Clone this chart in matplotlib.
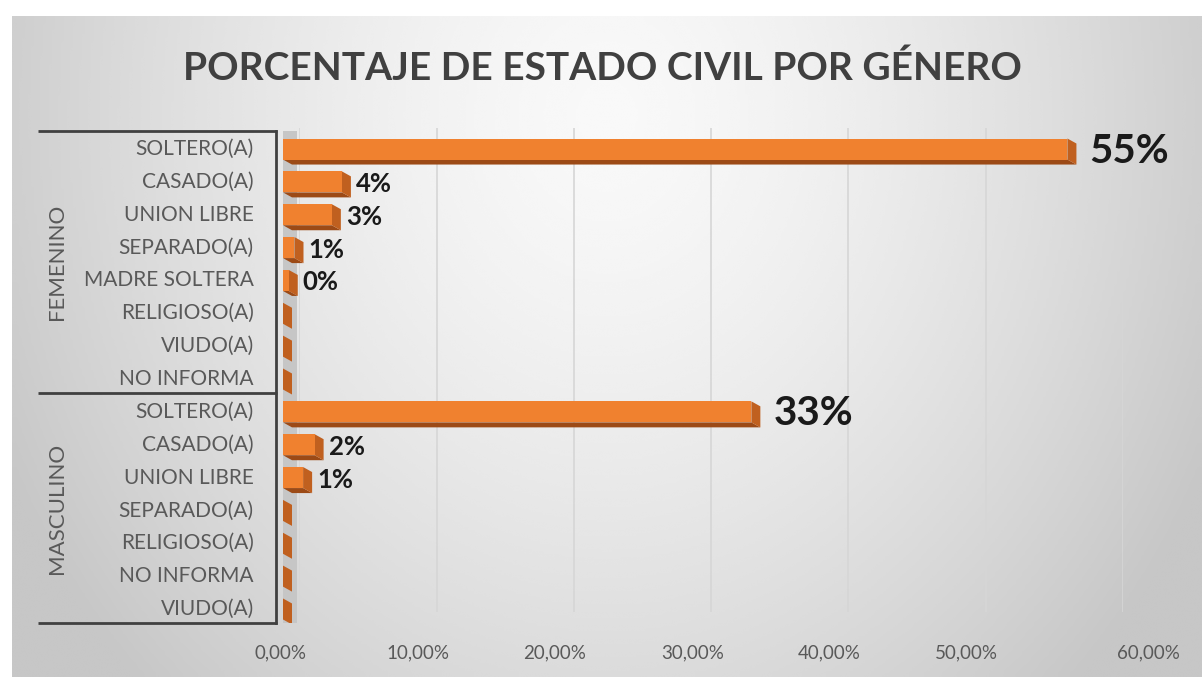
import numpy as np
import matplotlib.pyplot as plt
from matplotlib.patches import Polygon
from matplotlib import transforms
from matplotlib.ticker import FuncFormatter

plt.rcParams['font.family'] = ['Lato', 'DejaVu Sans']

# datos
fem_cats = ["SOLTERO(A)", "CASADO(A)", "UNION LIBRE", "SEPARADO(A)",
            "MADRE SOLTERA", "RELIGIOSO(A)", "VIUDO(A)", "NO INFORMA"]
fem_vals = [0.546, 0.041, 0.034, 0.008, 0.004, 0.0, 0.0, 0.0]
mas_cats = ["SOLTERO(A)", "CASADO(A)", "UNION LIBRE", "SEPARADO(A)",
            "RELIGIOSO(A)", "NO INFORMA", "VIUDO(A)"]
mas_vals = [0.326, 0.022, 0.014, 0.0, 0.0, 0.0, 0.0]
groups = ["FEMENINO", "MASCULINO"]
x_ticks = [0, 0.1, 0.2, 0.3, 0.4, 0.5, 0.6]

cats = fem_cats + mas_cats
vals = fem_vals + mas_vals
ypos = np.arange(len(cats))

W, H = 1202, 677
fig = plt.figure(figsize=(W / 100, H / 100), dpi=100)
fig.patch.set_facecolor('white')

# fondo con degradado
bg = fig.add_axes([12 / W, 0, (W - 12) / W, (H - 16) / H], zorder=-10)
u, w = np.meshgrid(np.linspace(0, 1, 400), np.linspace(0, 1, 250))
r = np.sqrt(((u - 0.5) / 0.75) ** 2 + ((w - 0.15) / 1.6) ** 2)
shade = np.clip(0.975 - 0.3 * r ** 1.5, 0.78, 1)
bg.imshow(shade, cmap='gray', vmin=0, vmax=1, aspect='auto', interpolation='bicubic')
bg.axis('off')

fig.text(602 / W, 1 - 68 / H, "PORCENTAJE DE ESTADO CIVIL POR GÉNERO",
         ha='center', va='center', fontsize=28, fontweight='bold', color='#404040')

# pared del fondo (rejilla y etiquetas del eje x)
wall_left, wall_right, wall_top, wall_bot = 299.4, 1123, 128, 612
ax_wall = fig.add_axes([wall_left / W, (H - wall_bot) / H, (wall_right - wall_left) / W,
                        (wall_bot - wall_top) / H], zorder=0)
ax_wall.patch.set_visible(False)
for s in ax_wall.spines.values():
    s.set_visible(False)
ax_wall.set_xlim(0, 0.6)
ax_wall.set_yticks([])
ax_wall.set_xticks(x_ticks)
ax_wall.xaxis.set_major_formatter(FuncFormatter(lambda v, p: f"{v * 100:.2f}%".replace('.', ',')))
ax_wall.grid(axis='x', color='#d6d6d6', lw=1.2)
ax_wall.tick_params(axis='x', length=0, pad=23, labelsize=13.5, labelcolor='#595959')
lbls = ax_wall.get_xticklabels()
for i, t in enumerate(lbls):
    shift = 25 if i == len(lbls) - 1 else -19
    t.set_transform(t.get_transform() + transforms.ScaledTranslation(shift / 100, 0, fig.dpi_scale_trans))

# eje principal (plano frontal)
ax_l, ax_r, ax_t, ax_b = 283, 1145, 130.6, 623.4
ax = fig.add_axes([ax_l / W, (H - ax_b) / H, (ax_r - ax_l) / W, (ax_b - ax_t) / H], zorder=1)
ax.patch.set_visible(False)
ax.set_xlim(0, 0.6)
ax.set_ylim(len(cats) - 0.5, -0.5)
px_x = 0.6 / (ax_r - ax_l)
px_y = len(cats) / (ax_b - ax_t)

for s in ['top', 'right', 'bottom']:
    ax.spines[s].set_visible(False)
ax.spines['left'].set_position(('outward', 5))
ax.spines['left'].set_color('#404040')
ax.spines['left'].set_linewidth(2)
ax.tick_params(axis='x', bottom=False, labelbottom=False)
ax.set_yticks(ypos)
ax.set_yticklabels(cats)
ax.tick_params(axis='y', length=0, pad=16, labelsize=15, labelcolor='#595959')

# pared lateral
ax.axvspan(-6 * px_x, 14 * px_x, color='#c6c6c6', zorder=0.5, lw=0)

h = 0.64
dx, dy = 9 * px_x, 5 * px_y
for y, v in zip(ypos, vals):
    yc = y + 2 * px_y
    top, bot = yc - h / 2, yc + h / 2
    ax.add_patch(Polygon([(0, bot), (v, bot), (v + dx, bot + dy), (dx, bot + dy)],
                         closed=True, fc='#9c4a16', ec='none', zorder=2))
    ax.add_patch(Polygon([(v, top), (v + dx, top + dy), (v + dx, bot + dy), (v, bot)],
                         closed=True, fc='#c0601f', ec='none', zorder=2))
    ax.barh(yc, v, height=h, left=0, color='#f0812f', zorder=3)
    if v > 0:
        big = v >= 0.1
        ax.annotate(f"{v:.0%}", xy=(v, yc), xytext=((22 if big else 14), -2),
                    textcoords='offset pixels', ha='left', va='center',
                    fontsize=(29 if big else 18.5), fontweight='bold', color='#1a1a1a')

# lineas de agrupacion y nombres de grupo
tr = transforms.blended_transform_factory(fig.transFigure, ax.transData)
n_f = len(fem_cats)
for yl in [-0.5, n_f - 0.5, len(cats) - 0.5]:
    ax.plot([38 / W, 277 / W], [yl, yl], transform=tr, color='#404040', lw=2,
            clip_on=False, solid_capstyle='butt')
centers = [(n_f - 1) / 2, n_f + (len(mas_cats) - 1) / 2]
for g, c in zip(groups, centers):
    ax.text(57 / W, c, g, transform=tr, rotation=90, ha='center', va='center',
            fontsize=16, color='#595959')

fig.savefig('out.png', dpi=100)
